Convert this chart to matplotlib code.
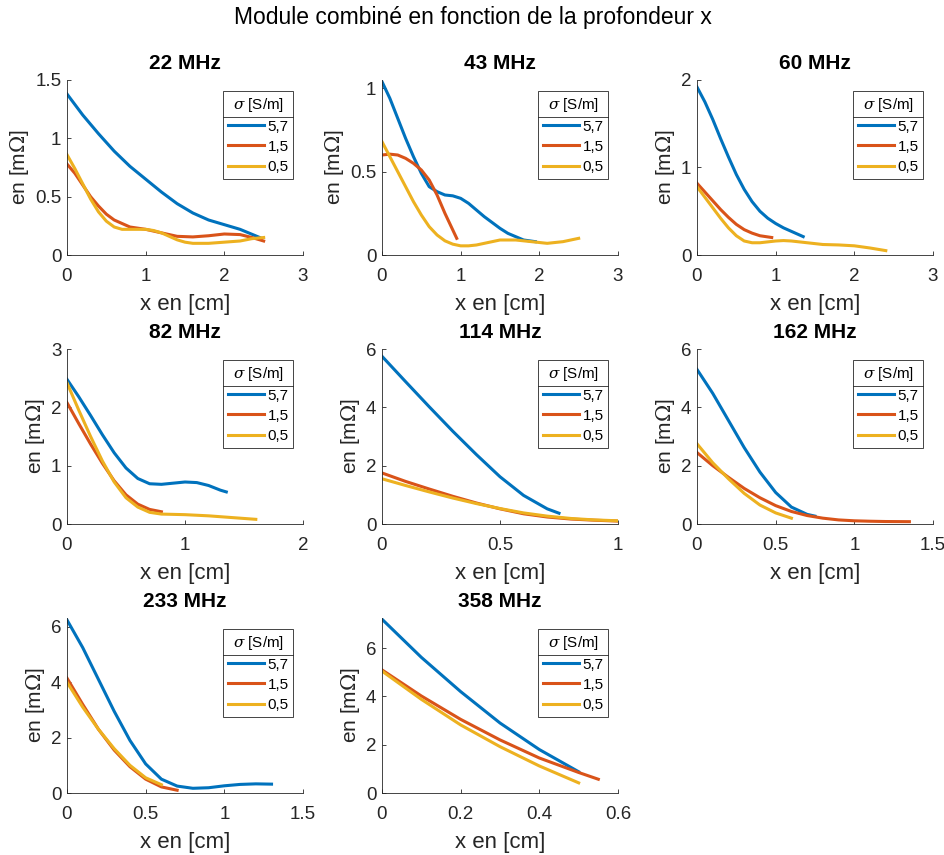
import matplotlib
matplotlib.use("Agg")
import matplotlib.pyplot as plt
from matplotlib.lines import Line2D
from matplotlib.ticker import FormatStrFormatter

plt.rcParams['font.family'] = ['Liberation Sans', 'DejaVu Sans']
plt.rcParams['mathtext.fontset'] = 'dejavuserif'

BLUE, RED, YELLOW = "#0072BD", "#D95319", "#EDB120"
DARK = "#262626"

freqs = ["22 MHz", "43 MHz", "60 MHz", "82 MHz", "114 MHz", "162 MHz", "233 MHz", "358 MHz"]
sigma_labels = ["5,7", "1,5", "0,5"]

# 22 MHz
x22_a = [0, 0.2, 0.4, 0.6, 0.8, 1.0, 1.2, 1.4, 1.6, 1.8, 2.0, 2.2, 2.45]
y22_a = [1.38, 1.20, 1.04, 0.89, 0.76, 0.65, 0.54, 0.44, 0.36, 0.30, 0.26, 0.22, 0.15]
x22_b = [0, 0.1, 0.2, 0.3, 0.4, 0.5, 0.6, 0.7, 0.8, 1.0, 1.2, 1.4, 1.6, 1.8, 2.0, 2.2, 2.35, 2.5]
y22_b = [0.78, 0.70, 0.60, 0.50, 0.42, 0.35, 0.30, 0.27, 0.24, 0.22, 0.19, 0.16, 0.155, 0.165,
         0.18, 0.175, 0.15, 0.12]
x22_c = [0, 0.1, 0.2, 0.3, 0.4, 0.5, 0.6, 0.7, 0.8, 0.9, 1.0, 1.1, 1.2, 1.3, 1.4, 1.5, 1.6,
         1.7, 1.8, 2.0, 2.2, 2.35, 2.5]
y22_c = [0.86, 0.74, 0.61, 0.48, 0.37, 0.29, 0.24, 0.22, 0.22, 0.22, 0.22, 0.21, 0.19, 0.16,
         0.13, 0.11, 0.10, 0.10, 0.10, 0.11, 0.12, 0.14, 0.15]

# 43 MHz
x43_a = [0, 0.1, 0.2, 0.3, 0.4, 0.5, 0.6, 0.7, 0.8, 0.9, 1.0, 1.1, 1.2, 1.3, 1.4, 1.5, 1.6,
         1.7, 1.8, 1.95]
y43_a = [1.04, 0.94, 0.82, 0.70, 0.59, 0.49, 0.41, 0.38, 0.36, 0.355, 0.34, 0.31, 0.27, 0.23,
         0.195, 0.16, 0.13, 0.11, 0.09, 0.08]
x43_b = [0, 0.1, 0.2, 0.3, 0.4, 0.5, 0.6, 0.7, 0.8, 0.9, 0.95]
y43_b = [0.60, 0.605, 0.60, 0.58, 0.55, 0.51, 0.45, 0.36, 0.25, 0.15, 0.10]
x43_c = [0, 0.1, 0.2, 0.3, 0.4, 0.5, 0.6, 0.7, 0.8, 0.9, 1.0, 1.1, 1.2, 1.3, 1.4, 1.5, 1.6,
         1.7, 1.8, 1.9, 2.0, 2.1, 2.2, 2.3, 2.4, 2.5]
y43_c = [0.68, 0.59, 0.50, 0.41, 0.32, 0.24, 0.17, 0.12, 0.085, 0.065, 0.055, 0.055, 0.06,
         0.07, 0.08, 0.09, 0.09, 0.09, 0.085, 0.08, 0.075, 0.07, 0.075, 0.08, 0.09, 0.10]

# 60 MHz
x60_a = [0, 0.1, 0.2, 0.3, 0.4, 0.5, 0.6, 0.7, 0.8, 0.9, 1.0, 1.1, 1.2, 1.35]
y60_a = [1.92, 1.75, 1.55, 1.33, 1.12, 0.92, 0.75, 0.61, 0.50, 0.42, 0.36, 0.31, 0.27, 0.21]
x60_b = [0, 0.1, 0.2, 0.3, 0.4, 0.5, 0.6, 0.7, 0.8, 0.95]
y60_b = [0.82, 0.72, 0.62, 0.52, 0.43, 0.35, 0.29, 0.25, 0.22, 0.20]
x60_c = [0, 0.1, 0.2, 0.3, 0.4, 0.5, 0.6, 0.7, 0.8, 0.9, 1.0, 1.1, 1.2, 1.4, 1.6, 1.8, 2.0,
         2.2, 2.4]
y60_c = [0.78, 0.66, 0.54, 0.42, 0.31, 0.22, 0.16, 0.14, 0.14, 0.15, 0.16, 0.165, 0.16, 0.14,
         0.12, 0.115, 0.105, 0.08, 0.05]

# 82 MHz
x82_a = [0, 0.1, 0.2, 0.3, 0.4, 0.5, 0.6, 0.7, 0.8, 0.9, 1.0, 1.1, 1.2, 1.3, 1.35]
y82_a = [2.48, 2.18, 1.86, 1.53, 1.22, 0.96, 0.78, 0.69, 0.68, 0.70, 0.72, 0.71, 0.66, 0.58, 0.55]
x82_b = [0, 0.1, 0.2, 0.3, 0.4, 0.5, 0.6, 0.7, 0.8]
y82_b = [2.08, 1.72, 1.37, 1.04, 0.74, 0.50, 0.34, 0.25, 0.21]
x82_c = [0, 0.1, 0.2, 0.3, 0.4, 0.5, 0.6, 0.7, 0.8, 1.0, 1.2, 1.4, 1.6]
y82_c = [2.42, 1.95, 1.50, 1.08, 0.72, 0.45, 0.29, 0.20, 0.17, 0.16, 0.14, 0.11, 0.08]

# 114 MHz
x114_a = [0, 0.1, 0.2, 0.3, 0.4, 0.5, 0.6, 0.7, 0.75]
y114_a = [5.75, 4.88, 4.02, 3.18, 2.38, 1.62, 0.98, 0.52, 0.37]
x114_b = [0, 0.1, 0.2, 0.3, 0.4, 0.5, 0.6, 0.7, 0.8, 0.9, 1.0]
y114_b = [1.75, 1.46, 1.20, 0.95, 0.72, 0.52, 0.35, 0.24, 0.17, 0.13, 0.10]
x114_c = [0, 0.1, 0.2, 0.3, 0.4, 0.5, 0.6, 0.7, 0.8, 0.9, 1.0]
y114_c = [1.55, 1.32, 1.10, 0.89, 0.70, 0.53, 0.38, 0.27, 0.19, 0.14, 0.11]

# 162 MHz
x162_a = [0, 0.1, 0.2, 0.3, 0.4, 0.5, 0.6, 0.7, 0.75]
y162_a = [5.3, 4.48, 3.55, 2.62, 1.78, 1.08, 0.58, 0.33, 0.27]
x162_b = [0, 0.1, 0.2, 0.3, 0.4, 0.5, 0.6, 0.7, 0.8, 0.9, 1.0, 1.1, 1.2, 1.35]
y162_b = [2.45, 2.0, 1.6, 1.22, 0.9, 0.63, 0.43, 0.29, 0.2, 0.14, 0.11, 0.095, 0.085, 0.08]
x162_c = [0, 0.1, 0.2, 0.3, 0.4, 0.5, 0.6]
y162_c = [2.75, 2.1, 1.55, 1.05, 0.65, 0.38, 0.20]

# 233 MHz
x233_a = [0, 0.1, 0.2, 0.3, 0.4, 0.5, 0.6, 0.7, 0.8, 0.9, 1.0, 1.1, 1.2, 1.3]
y233_a = [6.25, 5.25, 4.1, 2.95, 1.9, 1.05, 0.5, 0.25, 0.17, 0.19, 0.26, 0.31, 0.33, 0.32]
x233_b = [0, 0.1, 0.2, 0.3, 0.4, 0.5, 0.6, 0.7]
y233_b = [4.15, 3.2, 2.3, 1.55, 0.95, 0.50, 0.22, 0.10]
x233_c = [0, 0.1, 0.2, 0.3, 0.4, 0.5, 0.6]
y233_c = [4.0, 3.1, 2.3, 1.6, 1.0, 0.55, 0.30]

# 358 MHz
x358_a = [0, 0.1, 0.2, 0.3, 0.4, 0.5]
y358_a = [7.2, 5.62, 4.2, 2.9, 1.8, 0.88]
x358_b = [0, 0.1, 0.2, 0.3, 0.4, 0.5, 0.55]
y358_b = [5.1, 4.02, 3.05, 2.2, 1.45, 0.85, 0.57]
x358_c = [0, 0.1, 0.2, 0.3, 0.4, 0.5]
y358_c = [5.05, 3.88, 2.82, 1.92, 1.12, 0.42]

series = [
    [(x22_a, y22_a), (x22_b, y22_b), (x22_c, y22_c)],
    [(x43_a, y43_a), (x43_b, y43_b), (x43_c, y43_c)],
    [(x60_a, y60_a), (x60_b, y60_b), (x60_c, y60_c)],
    [(x82_a, y82_a), (x82_b, y82_b), (x82_c, y82_c)],
    [(x114_a, y114_a), (x114_b, y114_b), (x114_c, y114_c)],
    [(x162_a, y162_a), (x162_b, y162_b), (x162_c, y162_c)],
    [(x233_a, y233_a), (x233_b, y233_b), (x233_c, y233_c)],
    [(x358_a, y358_a), (x358_b, y358_b), (x358_c, y358_c)],
]

xlims = [3, 3, 3, 2, 1, 1.5, 1.5, 0.6]
ylims = [1.5, 1.05, 2, 3, 6, 6, 6.32, 7.25]
xticks = [[0, 1, 2, 3], [0, 1, 2, 3], [0, 1, 2, 3], [0, 1, 2], [0, 0.5, 1],
          [0, 0.5, 1, 1.5], [0, 0.5, 1, 1.5], [0, 0.2, 0.4, 0.6]]
yticks = [[0, 0.5, 1, 1.5], [0, 0.5, 1], [0, 1, 2], [0, 1, 2, 3], [0, 2, 4, 6],
          [0, 2, 4, 6], [0, 2, 4, 6], [0, 2, 4, 6]]

W, H = 945, 855
fig = plt.figure(figsize=(W / 100, H / 100), dpi=100)
fig.suptitle("Module combiné en fonction de la profondeur x", fontsize=16.5, y=1 - 6 / H)

col_left = [67, 382, 697]
row_top = [80, 349, 618]
aw, ah = 236, 175

legends = []
for i, name in enumerate(freqs):
    r, c = divmod(i, 3)
    ax = fig.add_axes([col_left[c] / W, 1 - (row_top[r] + ah) / H, aw / W, ah / H])
    for (xs, ys), col, lab in zip(series[i], [BLUE, RED, YELLOW], sigma_labels):
        ax.plot(xs, ys, color=col, lw=2.2, label=lab, solid_joinstyle='round')
    ax.set_xlim(0, xlims[i])
    ax.set_ylim(0, ylims[i])
    ax.set_xticks(xticks[i])
    ax.set_yticks(yticks[i])
    ax.xaxis.set_major_formatter(FormatStrFormatter('%g'))
    ax.yaxis.set_major_formatter(FormatStrFormatter('%g'))
    for s in ['top', 'right']:
        ax.spines[s].set_visible(False)
    for s in ['left', 'bottom']:
        ax.spines[s].set_color(DARK)
        ax.spines[s].set_linewidth(0.6)
    ax.tick_params(direction='in', length=3, width=0.6, colors=DARK, labelsize=13.5)
    ax.tick_params(axis='x', pad=9)
    ax.tick_params(axis='y', pad=4)
    ax.set_title(name, fontsize=15, fontweight='bold', pad=8)
    ax.set_xlabel("x en [cm]", fontsize=16, color=DARK, labelpad=7)
    ax.set_ylabel("en [m$\\Omega$]", fontsize=15, color=DARK, labelpad=3)
    leg = ax.legend(title="$\\sigma$ [S/m]", loc='upper right', bbox_to_anchor=(0.958, 0.937),
                    borderaxespad=0, fancybox=False, framealpha=1, edgecolor=DARK,
                    fontsize=11, title_fontsize=11, handlelength=2.4, handletextpad=0.2,
                    labelspacing=0.4, borderpad=0.3)
    leg.get_frame().set_linewidth(0.6)
    legends.append(leg)

# separator line under the legend title, as in the MATLAB legend
fig.canvas.draw()
inv = fig.transFigure.inverted()
for leg in legends:
    fb = leg.get_frame().get_window_extent()
    tb = leg.get_title().get_window_extent()
    eb = leg.get_texts()[0].get_window_extent()
    yline = (tb.y0 + eb.y1) / 2
    (x0, y0), (x1, _) = inv.transform([(fb.x0, yline), (fb.x1, yline)])
    fig.add_artist(Line2D([x0, x1], [y0, y0], color=DARK, lw=0.6, transform=fig.transFigure))

fig.savefig("out.png", dpi=100)
